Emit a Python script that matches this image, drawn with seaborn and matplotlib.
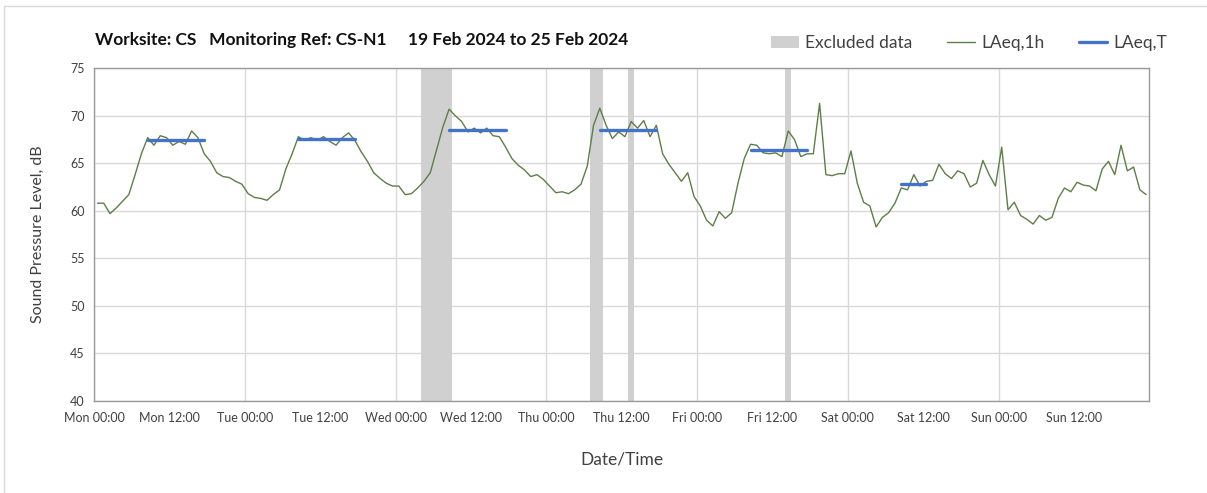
import numpy as np
import pandas as pd
import matplotlib
matplotlib.use("Agg")
import matplotlib.pyplot as plt
import seaborn as sns
from matplotlib.patches import Patch, Rectangle
from matplotlib.lines import Line2D

# ---------------- data ----------------
# hourly LAeq,1h values starting Mon 00:00 (each plotted mid-hour)
laeq_1h = [
    60.8, 60.8, 59.7, 60.3, 61.0, 61.7, 63.8, 66.0, 67.7, 66.9, 67.9, 67.7,
    66.9, 67.3, 67.0, 68.4, 67.7, 66.0, 65.2, 64.0, 63.6, 63.5, 63.1, 62.8,
    61.8, 61.4, 61.3, 61.1, 61.7, 62.2, 64.4, 66.0, 67.8, 67.4, 67.7, 67.4,
    67.8, 67.3, 66.9, 67.7, 68.2, 67.4, 66.2, 65.2, 64.0, 63.4, 62.9, 62.6,
    62.6, 61.7, 61.8, 62.4, 63.1, 64.0, 66.4, 68.8, 70.7, 70.0, 69.4, 68.3,
    68.7, 68.2, 68.7, 67.9, 67.8, 66.7, 65.5, 64.8, 64.3, 63.6, 63.8, 63.3,
    62.6, 61.9, 62.0, 61.8, 62.2, 62.8, 64.7, 69.0, 70.8, 69.0, 67.6, 68.3,
    67.8, 69.4, 68.7, 69.5, 67.8, 69.0, 66.0, 64.9, 64.0, 63.1, 64.0, 61.5,
    60.5, 59.0, 58.4, 59.9, 59.2, 59.8, 62.9, 65.5, 67.0, 66.9, 66.1, 66.0,
    66.1, 65.7, 68.4, 67.5, 65.7, 66.0, 66.0, 71.3, 63.8, 63.7, 63.9, 63.9,
    66.3, 62.9, 60.9, 60.5, 58.3, 59.3, 59.8, 60.8, 62.4, 62.2, 63.8, 62.6,
    63.1, 63.2, 64.9, 63.9, 63.4, 64.2, 63.9, 62.5, 62.9, 65.3, 63.8, 62.6,
    66.7, 60.1, 60.9, 59.5, 59.1, 58.6, 59.5, 59.0, 59.3, 61.3, 62.4, 62.0,
    63.0, 62.7, 62.6, 62.1, 64.4, 65.2, 63.8, 66.9, 64.2, 64.6, 62.2, 61.7,
]

# LAeq,T periods (first and last hour index) and values
period_start = [8, 32, 56, 80, 104, 128]
period_end = [17, 41, 65, 89, 113, 132]
laeq_t = [67.4, 67.55, 68.5, 68.5, 66.4, 62.8]

# excluded data spans (hours from Mon 00:00)
excluded_start = [52, 79, 85, 110]
excluded_end = [57, 81, 86, 111]

days = ["Mon", "Tue", "Wed", "Thu", "Fri", "Sat", "Sun"]
labels_00 = [f"{d} 00:00" for d in days]
labels_12 = [f"{d} 12:00" for d in days]

title = "Worksite: CS   Monitoring Ref: CS-N1     19 Feb 2024 to 25 Feb 2024"

# ---------------- style ----------------
sns.set_theme(style="white")
plt.rcParams["font.family"] = ["Lato", "DejaVu Sans"]

GREEN = "#5f7d4c"
BLUE = "#4472C4"
GREY = "#d0d0d0"
GRID = "#d9d9d9"
SPINE = "#9a9a9a"
TEXT = "#404040"

df = pd.DataFrame({"hour": np.arange(len(laeq_1h)) + 0.5, "level": laeq_1h})
rows = []
for k, (s, e, v) in enumerate(zip(period_start, period_end, laeq_t)):
    for h in range(s, e + 1):
        rows.append({"hour": h + 0.5, "level": v, "period": k})
dft = pd.DataFrame(rows)

fig = plt.figure(figsize=(12.07, 4.93), dpi=100)
ax = fig.add_axes([94.3 / 1207, 1 - 400.7 / 493, (1149.3 - 94.3) / 1207, (400.7 - 68.3) / 493])

for s, e in zip(excluded_start, excluded_end):
    ax.axvspan(s, e, color=GREY, lw=0, zorder=1)

sns.lineplot(data=df, x="hour", y="level", ax=ax, color=GREEN, lw=1.0, zorder=3)
sns.lineplot(data=dft, x="hour", y="level", units="period", estimator=None,
             ax=ax, color=BLUE, lw=2.4, zorder=4)

ax.set_xlim(0, 168)
ax.set_ylim(40, 75)
ax.set_yticks(np.arange(40, 76, 5))
ax.set_xticks(np.arange(0, 168, 24), labels=labels_00)
ax.set_xticks(list(np.arange(12, 168, 24)) + [168], labels=labels_12 + [""], minor=True)

ax.grid(axis="y", color=GRID, lw=1)
ax.grid(axis="x", which="major", color=GRID, lw=1)
ax.set_axisbelow(True)
for sp in ax.spines.values():
    sp.set_color(SPINE)
    sp.set_linewidth(1)

ax.tick_params(axis="both", which="both", direction="out", length=5, width=1,
               color=SPINE, labelcolor=TEXT, labelsize=9)
ax.tick_params(axis="y", pad=2)
ax.tick_params(axis="x", which="both", pad=3)

ax.set_xlabel("Date/Time", fontsize=12.5, color=TEXT, labelpad=20)
ax.set_ylabel("Sound Pressure Level, dB", fontsize=11.5, color=TEXT, labelpad=18)

fig.text(95 / 1207, 1 - 40 / 493, title, ha="left", va="center",
         fontsize=12.5, fontweight="bold", color="#111111")

handles = [
    Patch(facecolor=GREY, edgecolor="none"),
    Line2D([], [], color=GREEN, lw=1.0),
    Line2D([], [], color=BLUE, lw=2.4),
]
fig.legend(handles, ["Excluded data", "LAeq,1h", "LAeq,T"], loc="center",
           bbox_to_anchor=(969 / 1207, 1 - 43 / 493), ncol=3, frameon=False,
           fontsize=12.5, handlelength=1.6, handletextpad=0.35, columnspacing=2.0,
           labelcolor=TEXT)

# outer chart border (left and top)
fig.add_artist(Rectangle((4 / 1207, -0.1), 1.2, 1.1 - 6 / 493,
                         transform=fig.transFigure, fill=False,
                         edgecolor="#d9d9d9", lw=1))

fig.savefig("out.png", dpi=100)
